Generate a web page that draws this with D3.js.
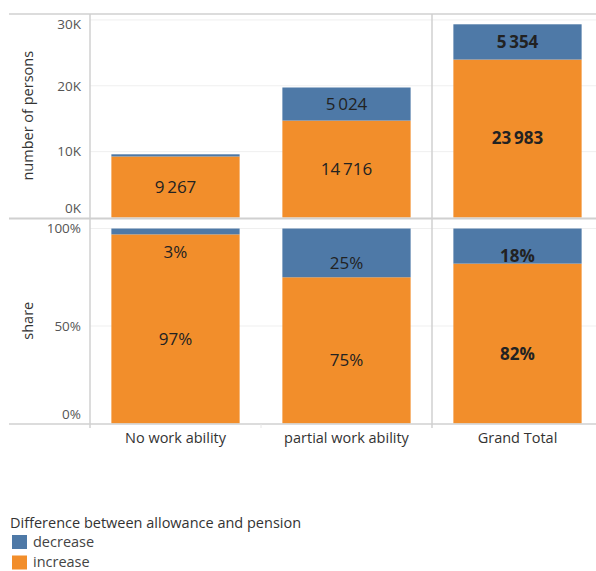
<!DOCTYPE html>
<html>
<head>
<meta charset="utf-8">
<script src="https://cdn.jsdelivr.net/npm/d3@7"></script>
<style>
  html, body { margin: 0; padding: 0; background: #fff; }
  svg { display: block; font-family: "Open Sans", "Noto Sans", sans-serif; }
</style>
</head>
<body>
<svg id="chart" width="596" height="571"></svg>
<script>
// Allowance-to-pension transitions by work ability
const categories = ["No work ability", "partial work ability", "Grand Total"];
const decreaseCount = [330, 5024, 5354];
const increaseCount = [9267, 14716, 23983];
const decreaseShare = [3, 25, 18];
const increaseShare = [97, 75, 82];
const countTicks = [0, 10000, 20000, 30000];
const countTickLabels = ["0K", "10K", "20K", "30K"];
const shareTicks = [0, 50, 100];
const shareTickLabels = ["0%", "50%", "100%"];
const seriesNames = ["decrease", "increase"];
const legendTitle = "Difference between allowance and pension";

const colors = { decrease: "#4e79a7", increase: "#f28e2b" };
const svg = d3.select("#chart");
const W = 596;
const left = 90, colW = 171;

const x = d3.scaleBand()
  .domain(categories)
  .range([left, left + colW * categories.length])
  .paddingInner(0.25)
  .paddingOuter(0.125);

const panes = [
  {
    top: 14, bottom: 217.5,
    y: d3.scaleLinear().domain([0, 30900]).range([217.5, 14]),
    dec: decreaseCount, inc: increaseCount,
    ticks: countTicks, tickLabels: countTickLabels,
    fmt: v => d3.format(",")(v).replace(/,/g, "\u2009"),
    title: "number of persons", labelShift: 0
  },
  {
    top: 218, bottom: 423.5,
    y: d3.scaleLinear().domain([0, 105.4]).range([423.5, 218]),
    dec: decreaseShare, inc: increaseShare,
    ticks: shareTicks, tickLabels: shareTickLabels,
    fmt: v => v + "%",
    title: "share", labelShift: 10
  }
];

// gridlines
panes.forEach(p => {
  svg.append("g").selectAll("line")
    .data(p.ticks.filter(t => t > 0))
    .join("line")
    .attr("x1", left).attr("x2", W)
    .attr("y1", d => p.y(d)).attr("y2", d => p.y(d))
    .attr("stroke", "#efefef").attr("stroke-width", 1);
});

// stacked bars
panes.forEach(p => {
  const stackData = categories.map((c, i) => ({ cat: c, increase: p.inc[i], decrease: p.dec[i] }));
  const series = d3.stack().keys(["increase", "decrease"])(stackData);
  const g = svg.append("g");
  series.forEach(s => {
    g.append("g").attr("fill", colors[s.key])
      .selectAll("rect").data(s).join("rect")
      .attr("x", d => x(d.data.cat))
      .attr("width", x.bandwidth())
      .attr("y", d => p.y(d[1]))
      .attr("height", d => p.y(d[0]) - p.y(d[1]));
  });
  // value labels
  series.forEach(s => {
    g.append("g").selectAll("text").data(s).join("text")
      .filter(d => p.y(d[0]) - p.y(d[1]) > 4)
      .attr("x", d => x(d.data.cat) + x.bandwidth() / 2)
      .attr("y", d => {
        const top = p.y(d[1]), bot = p.y(d[0]);
        return Math.max((top + bot) / 2 + p.labelShift, top + 24 * (p.labelShift ? 1 : 0));
      })
      .attr("dy", "0.35em")
      .attr("text-anchor", "middle")
      .attr("font-size", 17)
      .attr("font-weight", d => d.data.cat === "Grand Total" ? 700 : 400)
      .attr("fill", "#222")
      .text(d => p.fmt(d.data[s.key]));
  });
});

// axis tick labels (kept inside their pane)
panes.forEach(p => {
  svg.append("g").selectAll("text").data(p.ticks).join("text")
    .attr("x", 81)
    .attr("y", d => Math.min(Math.max(p.y(d), p.top + 10), p.bottom - 9))
    .attr("dy", "0.35em")
    .attr("text-anchor", "end")
    .attr("font-size", 13.5)
    .attr("fill", "#555")
    .text((d, i) => p.tickLabels[i]);
  svg.append("text")
    .attr("transform", `translate(33,${(p.top + p.bottom) / 2}) rotate(-90)`)
    .attr("text-anchor", "middle")
    .attr("font-size", 14.5)
    .attr("fill", "#333")
    .text(p.title);
});

// frame lines
const frame = svg.append("g").attr("stroke", "#d0d0d0").attr("fill", "none");
frame.append("line").attr("x1", 9).attr("x2", W).attr("y1", 14).attr("y2", 14).attr("stroke-width", 1.5);
frame.append("line").attr("x1", 9).attr("x2", W).attr("y1", 218.5).attr("y2", 218.5).attr("stroke-width", 2);
frame.append("line").attr("x1", 9).attr("x2", W).attr("y1", 424).attr("y2", 424).attr("stroke-width", 1.5);
frame.append("line").attr("x1", left).attr("x2", left).attr("y1", 14).attr("y2", 428).attr("stroke-width", 1.5);
const gtX = left + colW * 2;
frame.append("line").attr("x1", gtX).attr("x2", gtX).attr("y1", 14).attr("y2", 428).attr("stroke-width", 1.5);
frame.append("line").attr("x1", left + colW).attr("x2", left + colW).attr("y1", 424).attr("y2", 428)
  .attr("stroke", "#e6e6e6");

// category labels
svg.append("g").selectAll("text").data(categories).join("text")
  .attr("x", d => x(d) + x.bandwidth() / 2)
  .attr("y", 438)
  .attr("dy", "0.35em")
  .attr("text-anchor", "middle")
  .attr("font-size", 14.5)
  .attr("fill", "#333")
  .text(d => d);

// legend
const lg = svg.append("g");
lg.append("text").attr("x", 10).attr("y", 522.5).attr("dy", "0.35em")
  .attr("font-size", 14.5).attr("fill", "#333").text(legendTitle);
const items = lg.selectAll("g.item").data(seriesNames).join("g")
  .attr("transform", (d, i) => `translate(12,${535 + i * 20.5})`);
items.append("rect").attr("width", 15).attr("height", 14).attr("fill", d => colors[d]);
items.append("text").attr("x", 21).attr("y", 6.5).attr("dy", "0.35em")
  .attr("font-size", 14.5).attr("fill", "#444").text(d => d);
</script>
</body>
</html>
